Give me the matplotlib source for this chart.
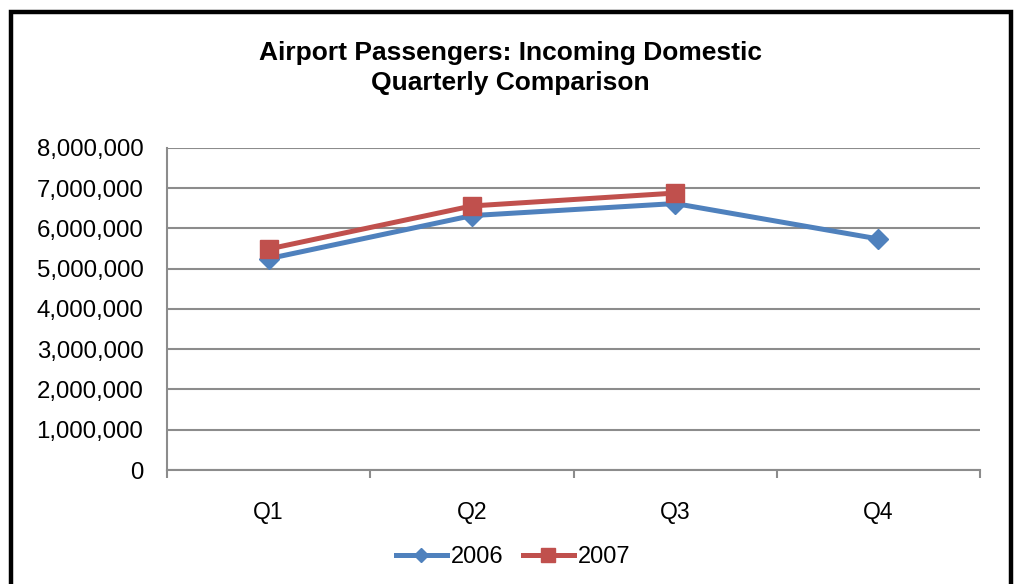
import matplotlib
matplotlib.use("Agg")
import matplotlib.pyplot as plt
from matplotlib.patches import Rectangle
from matplotlib.ticker import FuncFormatter, MultipleLocator

plt.rcParams['font.family'] = ['Liberation Sans', 'DejaVu Sans']

quarters = ['Q1', 'Q2', 'Q3', 'Q4']
pax_2006 = [5250000, 6320000, 6620000, 5740000]
pax_2007 = [5490000, 6560000, 6880000]

blue = '#4F81BD'
red = '#C0504D'
grid_col = '#8C8C8C'

fig = plt.figure(figsize=(10.16, 5.84), dpi=100)
ax = fig.add_axes([0.1644, 0.1952, 0.8002, 0.5514])

x06 = list(range(len(pax_2006)))
x07 = list(range(len(pax_2007)))
ax.plot(x06, pax_2006, color=blue, lw=3.6, marker='D', ms=10,
        label='2006', zorder=3)
ax.plot(x07, pax_2007, color=red, lw=3.6, marker='s', ms=13,
        label='2007', zorder=4)

ax.set_xlim(-0.5, len(quarters) - 0.5)
ax.set_ylim(0, 8000000)
ax.yaxis.set_major_locator(MultipleLocator(1000000))
ax.yaxis.set_major_formatter(FuncFormatter(lambda v, p: '{:,.0f}'.format(v)))
ax.grid(axis='y', color=grid_col, lw=1.5)
ax.set_axisbelow(True)

ax.set_xticks(x06)
ax.set_xticklabels(quarters)
ax.set_xticks([i - 0.5 for i in range(len(quarters) + 1)], minor=True)
ax.tick_params(axis='x', which='major', length=0, pad=22, labelsize=16.5)
ax.tick_params(axis='x', which='minor', length=6, width=1.5, color=grid_col)
ax.tick_params(axis='y', length=0, pad=17, labelsize=17.3)

for s in ['top', 'right']:
    ax.spines[s].set_visible(False)
for s in ['left', 'bottom']:
    ax.spines[s].set_color(grid_col)
    ax.spines[s].set_linewidth(1.5)

fig.text(0.502, 0.884, 'Airport Passengers: Incoming Domestic\nQuarterly Comparison',
         ha='center', va='center', fontsize=19, fontweight='bold',
         linespacing=1.3)

fig.legend(loc='center', bbox_to_anchor=(0.505, 0.046), ncol=2, frameon=False,
           fontsize=17, handlelength=2.2, handletextpad=0.15, columnspacing=0.8,
           markerscale=0.75)

border = Rectangle((11 / 1016, -0.05), 1000 / 1016, 1.05 - 12 / 584,
                   transform=fig.transFigure, fill=False, ec='black', lw=3.2)
fig.patches.append(border)

fig.savefig('out.png', dpi=100)
